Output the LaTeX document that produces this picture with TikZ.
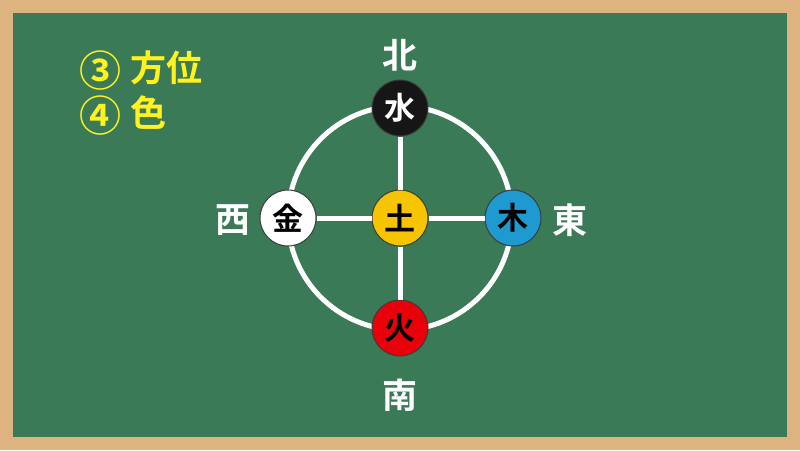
\documentclass[tikz,border=0pt]{standalone}
\usepackage{fontspec}
\setmainfont{Noto Sans CJK JP}[BoldFont={Noto Sans CJK JP Bold}]
\usepackage{tikz}
\usetikzlibrary{positioning}
\definecolor{board}{HTML}{3A7A57}
\definecolor{frame}{HTML}{DDB47F}
\definecolor{chalkyellow}{HTML}{FFF21E}
\definecolor{earth}{HTML}{F6C400}
\definecolor{wood}{HTML}{1E9AD0}
\definecolor{fire}{HTML}{E8000B}
\definecolor{water}{HTML}{161616}
\definecolor{rim}{HTML}{3C3C3C}
\newcommand{\bignum}[1]{\raisebox{-5pt}{\fontsize{42}{42}\selectfont #1}\hspace{9pt}}

\begin{document}
\begin{tikzpicture}
		[x=1pt,y=-1pt,every node/.style={font=\bfseries},
		elem/.style={circle,draw=rim,line width=1pt,minimum size=56pt,inner sep=0pt,font=\bfseries\fontsize{31}{31}\selectfont},
		dir/.style={text=white,font=\bfseries\fontsize{35}{35}\selectfont},
		memo/.style={text=chalkyellow,anchor=west,font=\bfseries\fontsize{36}{36}\selectfont}]
		\fill[frame] (0,0) rectangle (800,450);
		\fill[board] (13,13) rectangle (787,437);
		
		\draw[white,line width=5pt] (400,218) circle (112);
		
		\node[elem,fill=earth] (tsuchi) at (400,218) {土};
		\node[elem,fill=water,text=white] (mizu) at (400,108) {水};
		\node[elem,fill=fire] (hi) at (400,328) {火};
		\node[elem,fill=white] (kin) at (288,218) {金};
		\node[elem,fill=wood] (ki) at (513,218) {木};
		
		\foreach \from/\to in 
		{tsuchi/mizu, tsuchi/hi, tsuchi/kin, tsuchi/ki}
		\draw[white,line width=5pt] (\from) -- (\to);
		
		\node[dir] (kita) at (400,55) {北};
		\node[dir] (minami) at (400,395) {南};
		\node[dir] (nishi) at (233,220) {西};
		\node[dir] (higashi) at (570,220) {東};
		
		\node[memo] (hoi) at (76,71) {\bignum{③}方位};
		\node[memo] (iro) at (76,116) {\bignum{④}色};
		\end{tikzpicture}
\end{document}
